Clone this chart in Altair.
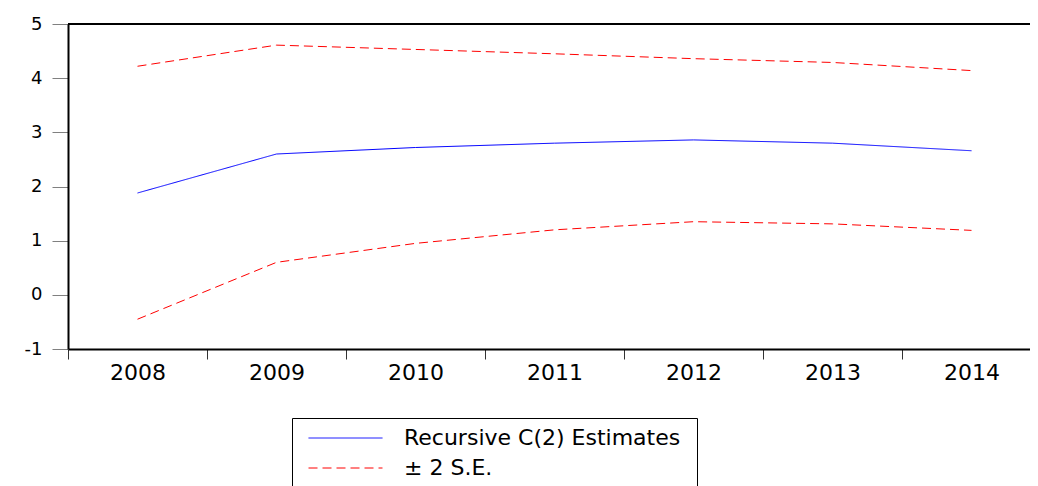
import altair as alt
import pandas as pd

years = ["2008", "2009", "2010", "2011", "2012", "2013", "2014"]
estimates = [1.88, 2.60, 2.72, 2.80, 2.86, 2.80, 2.66]
upper_se = [4.22, 4.61, 4.53, 4.45, 4.36, 4.29, 4.14]
lower_se = [-0.45, 0.60, 0.95, 1.20, 1.35, 1.31, 1.19]

series_names = ["Recursive C(2) Estimates", "\u00b1 2 S.E."]

rows = []
for y, e, u, l in zip(years, estimates, upper_se, lower_se):
    rows.append({"year": y, "value": e, "series": series_names[0], "line": "est"})
    rows.append({"year": y, "value": u, "series": series_names[1], "line": "upper"})
    rows.append({"year": y, "value": l, "series": series_names[1], "line": "lower"})
df = pd.DataFrame(rows)

FONT = "DejaVu Sans"

legend_cfg = dict(title=None, orient="none", legendX=224, legendY=394,
                  symbolType="stroke", symbolSize=5476, clipHeight=8,
                  symbolStrokeWidth=1, labelFontSize=22,
                  labelFont=FONT, labelColor="black", labelLimit=600,
                  labelOffset=21, padding=16, rowPadding=8,
                  strokeColor="black", fillColor="white",
                  direction="vertical")

lines = alt.Chart(df).mark_line(strokeWidth=1, clip=False).encode(
    x=alt.X("year:O",
            scale=alt.Scale(type="band", paddingInner=0, paddingOuter=0,
                            range=[0, 973]),
            axis=alt.Axis(title=None, labelAngle=0, tickBand="extent",
                          tickSize=10, tickColor="#333333", domainColor="black",
                          domainWidth=2, labelFontSize=22, labelFont=FONT,
                          labelColor="black", labelPadding=3, grid=False)),
    y=alt.Y("value:Q",
            scale=alt.Scale(domain=[-1, 5], nice=False, zero=False),
            axis=alt.Axis(title=None, values=[-1, 0, 1, 2, 3, 4, 5], format="d",
                          labelExpr="replace(datum.label, '\u2212', '-')",
                          tickSize=16, tickColor="#808080", domainColor="black",
                          domainWidth=2, labelFontSize=18, labelFont=FONT,
                          labelColor="black", labelPadding=10, grid=False)),
    color=alt.Color("series:N",
                    scale=alt.Scale(domain=series_names, range=["#0000FF", "#FF0000"]),
                    legend=alt.Legend(**legend_cfg)),
    strokeDash=alt.StrokeDash("series:N",
                              scale=alt.Scale(domain=series_names, range=[[1, 0], [9, 5]]),
                              legend=alt.Legend(**legend_cfg)),
    detail="line:N",
)

top_rule = alt.Chart(df).mark_rule(color="black", strokeWidth=1.5).encode(
    x=alt.datum("2008", bandPosition=0),
    x2=alt.datum("2014", bandPosition=1),
    y=alt.datum(5)
)

chart = alt.layer(lines, top_rule).properties(
    width=962,
    height=325,
    padding={"left": 60, "top": 16, "right": 0, "bottom": 137},
    autosize=alt.AutoSizeParams(type="none"),
    background="white",
).configure_view(stroke=None)

chart.save("out.html", embed_options={"renderer": "svg", "actions": False})
